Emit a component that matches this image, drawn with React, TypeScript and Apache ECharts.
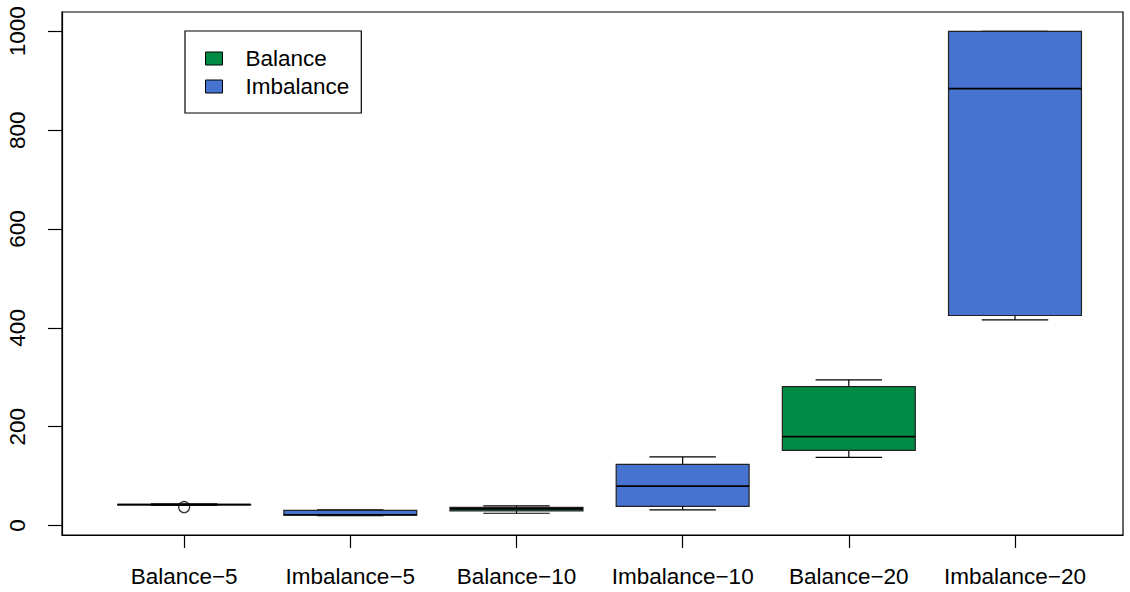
import React, { useEffect, useRef } from "react";
import * as echarts from "echarts";

// Box-plot statistics per configuration (run time), one entry per category.
const categories = [
  "Balance\u22125",
  "Imbalance\u22125",
  "Balance\u221210",
  "Imbalance\u221210",
  "Balance\u221220",
  "Imbalance\u221220",
];
const groups = ["Balance", "Imbalance", "Balance", "Imbalance", "Balance", "Imbalance"];
const lowerWhisker = [41, 20, 25, 32, 138, 416];
const lowerQuartile = [42, 21, 30, 39, 152, 425];
const medians = [42.5, 22, 34, 80, 180, 884];
const upperQuartile = [43, 31, 37, 124, 281, 1000];
const upperWhisker = [44, 32, 40, 139, 295, 1000];
// [category position, value]
const outliers = [[1, 37.5]];

const yTicks = [0, 200, 400, 600, 800, 1000];
const xTicks = [1, 2, 3, 4, 5, 6];

const groupColors: Record<string, string> = {
  Balance: "#008B45",
  Imbalance: "#4672D0",
};

const FONT = "'Liberation Sans', Arial, Helvetica, sans-serif";

function rowsFor(group: string) {
  const rows: number[][] = [];
  categories.forEach((_, i) => {
    if (groups[i] === group) {
      rows.push([
        i + 1,
        lowerWhisker[i],
        lowerQuartile[i],
        medians[i],
        upperQuartile[i],
        upperWhisker[i],
      ]);
    }
  });
  return rows;
}

function renderBox(params: any, api: any) {
  const x = api.value(0);
  const lo = api.coord([x, api.value(1)]);
  const q1 = api.coord([x, api.value(2)]);
  const md = api.coord([x, api.value(3)]);
  const q3 = api.coord([x, api.value(4)]);
  const hi = api.coord([x, api.value(5)]);
  const w = api.size([0.8, 0])[0];
  const cx = lo[0];
  const half = w / 2;
  const cap = w / 4;
  const fill = api.visual("color");
  const ink = { stroke: "#000", lineWidth: 1.2 };
  return {
    type: "group",
    children: [
      { type: "line", shape: { x1: cx, y1: hi[1], x2: cx, y2: q3[1] }, style: ink },
      { type: "line", shape: { x1: cx, y1: q1[1], x2: cx, y2: lo[1] }, style: ink },
      { type: "line", shape: { x1: cx - cap, y1: hi[1], x2: cx + cap, y2: hi[1] }, style: ink },
      { type: "line", shape: { x1: cx - cap, y1: lo[1], x2: cx + cap, y2: lo[1] }, style: ink },
      {
        type: "rect",
        shape: { x: cx - half, y: q3[1], width: w, height: q1[1] - q3[1] },
        style: { fill, stroke: "#222", lineWidth: 1.2 },
      },
      {
        type: "line",
        shape: { x1: cx - half, y1: md[1], x2: cx + half, y2: md[1] },
        style: { stroke: "#000", lineWidth: 1.7 },
      },
    ],
  };
}

export default function App() {
  const ref = useRef<HTMLDivElement>(null);

  useEffect(() => {
    if (!ref.current) return;
    const chart = echarts.init(ref.current, null, { renderer: "svg" });
    const textStyle = { color: "#000", fontFamily: FONT, fontSize: 22.5 };

    chart.setOption({
      animation: false,
      backgroundColor: "#fff",
      textStyle: { fontFamily: FONT },
      grid: {
        left: 62,
        right: 7,
        top: 12,
        bottom: 57,
        show: true,
        borderColor: "#000",
        borderWidth: 1.2,
        backgroundColor: "transparent",
      },
      legend: {
        left: 185,
        top: 31,
        orient: "vertical",
        data: ["Balance", "Imbalance"],
        icon: "rect",
        itemWidth: 17,
        itemHeight: 13,
        itemGap: 5,
        padding: [16, 12, 15, 20],
        borderColor: "#000",
        borderWidth: 1.2,
        backgroundColor: "#fff",
        borderRadius: 0,
        itemStyle: { borderColor: "#000", borderWidth: 1 },
        textStyle: { ...textStyle, padding: [0, 0, 0, 18] },
        selectedMode: false,
      },
      xAxis: {
        type: "value",
        min: 0.265,
        max: 6.65,
        splitLine: { show: false },
        axisLine: { show: true, onZero: false, lineStyle: { color: "#000", width: 1.2 } },
        axisTick: {
          show: true,
          length: 13,
          customValues: xTicks,
          lineStyle: { color: "#000", width: 1.2 },
        },
        axisLabel: {
          ...textStyle,
          margin: 30,
          customValues: xTicks,
          formatter: (v: number) => categories[Math.round(v) - 1] ?? "",
        },
      },
      yAxis: {
        type: "value",
        min: -19,
        max: 1039,
        splitLine: { show: false },
        axisLine: { show: true, lineStyle: { color: "#000", width: 1.2 } },
        axisTick: {
          show: true,
          length: 14,
          customValues: yTicks,
          lineStyle: { color: "#000", width: 1.2 },
        },
        axisLabel: {
          ...textStyle,
          rotate: 90,
          margin: 33,
          customValues: yTicks,
          formatter: (v: number) => String(v),
        },
      },
      series: [
        {
          name: "Balance",
          type: "custom",
          itemStyle: { color: groupColors.Balance },
          encode: { x: 0, y: [1, 2, 3, 4, 5] },
          renderItem: renderBox,
          data: rowsFor("Balance"),
        },
        {
          name: "Imbalance",
          type: "custom",
          itemStyle: { color: groupColors.Imbalance },
          encode: { x: 0, y: [1, 2, 3, 4, 5] },
          renderItem: renderBox,
          data: rowsFor("Imbalance"),
        },
        {
          name: "outliers",
          type: "scatter",
          symbol: "circle",
          symbolSize: 11,
          itemStyle: { color: "transparent", borderColor: "#000", borderWidth: 1.3 },
          data: outliers,
          z: 5,
        },
      ],
    });

    return () => chart.dispose();
  }, []);

  return (
    <div
      ref={ref}
      style={{ position: "absolute", left: 0, top: 0, width: 1130, height: 592 }}
    />
  );
}
